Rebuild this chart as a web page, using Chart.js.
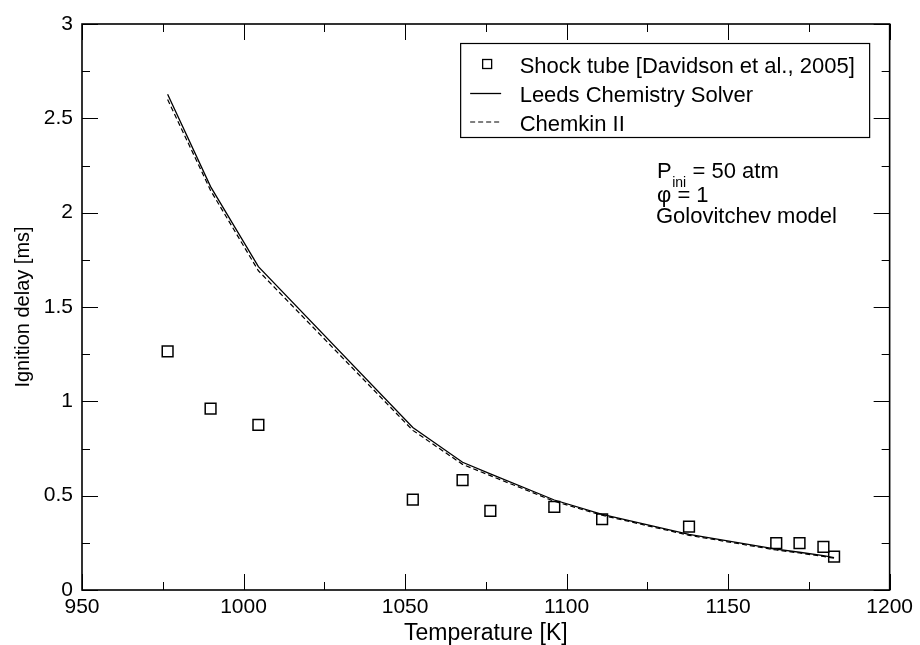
<!DOCTYPE html>
<html><head><meta charset="utf-8">
<script src="https://cdn.jsdelivr.net/npm/chart.js@4/dist/chart.umd.min.js"></script>
<style>html,body{margin:0;padding:0;background:#fff}canvas{display:block}</style>
</head><body>
<canvas id="c" width="920" height="645"></canvas>
<script>
// ---- data ----
const temperatures   = [976.5, 989.8, 1004.6, 1052.4, 1067.8, 1076.4, 1096.2, 1111.0, 1137.9, 1164.9, 1172.1, 1179.5, 1182.8];
const shockTubeDelay = [1.265, 0.962, 0.875, 0.479, 0.583, 0.419, 0.440, 0.375, 0.336, 0.249, 0.249, 0.228, 0.177];
const leedsDelay     = [2.628, 2.138, 1.714, 0.861, 0.677, 0.615, 0.477, 0.401, 0.295, 0.217, 0.200, 0.182, 0.172];
const chemkinDelay   = [2.600, 2.118, 1.692, 0.846, 0.666, 0.606, 0.470, 0.396, 0.290, 0.212, 0.196, 0.178, 0.168];
const xTicks = [950, 1000, 1050, 1100, 1150, 1200];
const yTicks = [0, 0.5, 1, 1.5, 2, 2.5, 3];
const seriesLabels = ['Shock tube [Davidson et al., 2005]', 'Leeds Chemistry Solver', 'Chemkin II'];
const xTitle = 'Temperature [K]';
const yTitle = 'Ignition delay [ms]';
const noteP = 'P', noteSub = 'ini', noteP2 = '= 50 atm', notePhi = 'φ = 1', noteModel = 'Golovitchev model';

const FONT = "'Liberation Sans', Arial, Helvetica, sans-serif";
const pts = (ys) => temperatures.map((t, i) => ({x: t, y: ys[i]}));

const decorPlugin = {
  id: 'decor',
  afterDatasetsDraw(chart) {
    const {ctx, chartArea: a, scales: {x, y}} = chart;
    ctx.save();
    ctx.strokeStyle = '#000';
    ctx.fillStyle = '#000';
    // inward ticks on all four sides
    const withMinor = (vals) => {
      const out = [];
      vals.forEach((v, i) => {
        out.push([v, 16]);
        if (i < vals.length - 1) out.push([(v + vals[i + 1]) / 2, 8]);
      });
      return out;
    };
    ctx.lineWidth = 1;
    ctx.beginPath();
    withMinor(xTicks).forEach(([v, len]) => {
      const px = Math.round(x.getPixelForValue(v)) + 0.5;
      ctx.moveTo(px, a.bottom); ctx.lineTo(px, a.bottom - len);
      ctx.moveTo(px, a.top); ctx.lineTo(px, a.top + len);
    });
    withMinor(yTicks).forEach(([v, len]) => {
      const py = Math.round(y.getPixelForValue(v)) + 0.5;
      ctx.moveTo(a.left, py); ctx.lineTo(a.left + len, py);
      ctx.moveTo(a.right, py); ctx.lineTo(a.right - len, py);
    });
    ctx.stroke();
    // frame
    ctx.lineWidth = 1.6;
    ctx.strokeRect(a.left, a.top, a.right - a.left, a.bottom - a.top);

    // legend box
    const ds = chart.data.datasets;
    const bx = a.right - 429, by = a.top + 19.5, bw = 409, bh = 94;
    ctx.lineWidth = 1.2;
    ctx.strokeRect(bx, by, bw, bh);
    const rows = [by + 20.5, by + 50, by + 78.5];
    const mx = bx + 26.5;
    // row 1: square
    ctx.lineWidth = 1.3;
    ctx.strokeRect(mx - 4.5, rows[0] - 4.5, 9, 9);
    // row 2: solid line
    ctx.lineWidth = ds[1].borderWidth;
    ctx.beginPath(); ctx.moveTo(bx + 9.5, rows[1]); ctx.lineTo(bx + 40.5, rows[1]); ctx.stroke();
    // row 3: dashed
    ctx.lineWidth = ds[2].borderWidth;
    ctx.setLineDash(ds[2].borderDash);
    ctx.beginPath(); ctx.moveTo(bx + 9.5, rows[2]); ctx.lineTo(bx + 41, rows[2]); ctx.stroke();
    ctx.setLineDash([]);
    ctx.font = '22px ' + FONT;
    ctx.textBaseline = 'alphabetic';
    ctx.textAlign = 'left';
    ds.forEach((d, i) => ctx.fillText(d.label, bx + 59, rows[i] + 8.5));

    // annotation
    const nx = a.left + 575;
    ctx.font = '22px ' + FONT;
    ctx.fillText(noteP, nx, 178.3);
    const pw = ctx.measureText(noteP).width;
    ctx.font = '14px ' + FONT;
    ctx.fillText(noteSub, nx + pw + 0.5, 186.5);
    ctx.font = '22px ' + FONT;
    ctx.fillText(noteP2, nx + 35.5, 178.3);
    ctx.fillText(notePhi, nx, 201.5);
    ctx.fillText(noteModel, nx - 1, 223.3);
    ctx.restore();
  }
};

new Chart(document.getElementById('c'), {
  type: 'scatter',
  data: {
    datasets: [
      {label: seriesLabels[0], data: pts(shockTubeDelay), showLine: false, pointStyle: 'rect',
       pointRadius: 7.6, pointHoverRadius: 7.6, borderColor: '#000', backgroundColor: 'rgba(0,0,0,0)',
       pointBorderWidth: 1.5, borderWidth: 1.5, order: 0},
      {label: seriesLabels[1], data: pts(leedsDelay), showLine: true, pointRadius: 0,
       borderColor: '#000', borderWidth: 1.3, tension: 0, fill: false, order: 1},
      {label: seriesLabels[2], data: pts(chemkinDelay), showLine: true, pointRadius: 0,
       borderColor: '#000', borderWidth: 1.2, borderDash: [5, 3], tension: 0, fill: false, order: 2}
    ]
  },
  options: {
    responsive: false, animation: false, devicePixelRatio: 1,
    layout: {padding: {top: 24, right: 28, left: 0, bottom: 0}},
    plugins: {legend: {display: false}, tooltip: {enabled: false}},
    scales: {
      x: {
        type: 'linear', min: xTicks[0], max: xTicks[xTicks.length - 1],
        afterBuildTicks: s => { s.ticks = xTicks.map(v => ({value: v})); },
        afterFit: s => { s.height = 55; },
        grid: {display: false, drawTicks: false, tickLength: 0},
        border: {display: false},
        ticks: {padding: 7, color: '#000', maxRotation: 0, autoSkip: false,
                font: {family: FONT, size: 21, lineHeight: 1}, callback: v => String(v)},
        title: {display: true, text: xTitle, color: '#000',
                font: {family: FONT, size: 23, lineHeight: 1}, padding: {top: 0, bottom: 0}}
      },
      y: {
        type: 'linear', min: yTicks[0], max: yTicks[yTicks.length - 1],
        afterBuildTicks: s => { s.ticks = yTicks.map(v => ({value: v})); },
        afterFit: s => { s.width = 82; },
        grid: {display: false, drawTicks: false, tickLength: 0},
        border: {display: false},
        ticks: {padding: 9, color: '#000', autoSkip: false,
                font: {family: FONT, size: 21, lineHeight: 1}, callback: v => String(v)},
        title: {display: true, text: yTitle, color: '#000',
                font: {family: FONT, size: 20, lineHeight: 1.2}, padding: {top: 11, bottom: 0}}
      }
    }
  },
  plugins: [decorPlugin]
});
</script>
</body></html>
